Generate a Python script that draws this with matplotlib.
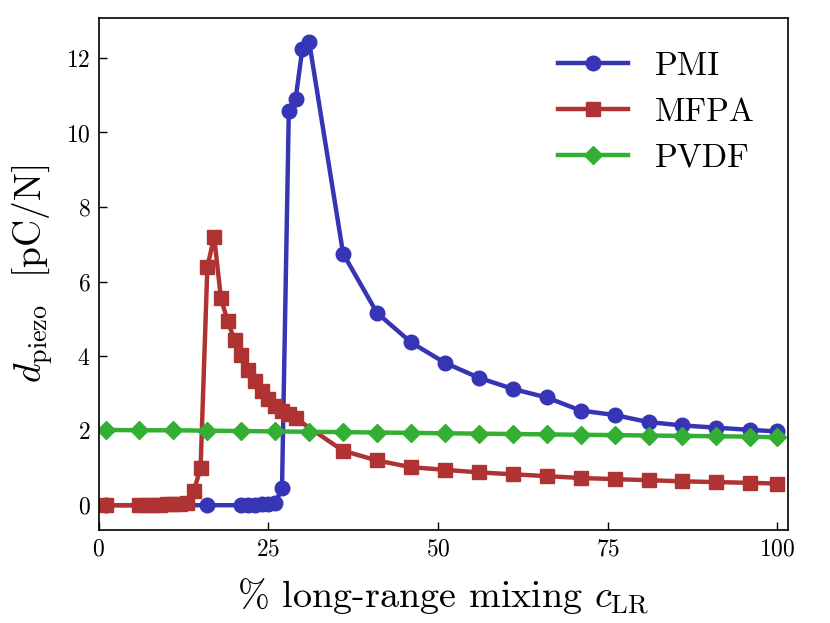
import numpy as np
import matplotlib.pyplot as plt

plt.rcParams["font.family"] = "serif"
plt.rcParams["font.serif"] = ["cmr10"]
plt.rcParams["mathtext.fontset"] = "cm"
plt.rcParams["axes.formatter.use_mathtext"] = True
plt.rcParams["axes.unicode_minus"] = False

# ── data ────────────────────────────────────────────────────────────
pmi_x = [1, 16, 21, 22, 23, 24, 25, 26, 27, 28, 29, 30, 31,
         36, 41, 46, 51, 56, 61, 66, 71, 76, 81, 86, 91, 96, 100]
pmi_y = [0.0, 0.0, 0.0, 0.0, 0.01, 0.02, 0.03, 0.05, 0.47, 10.57, 10.9, 12.25, 12.43,
         6.75, 5.16, 4.37, 3.82, 3.42, 3.12, 2.89, 2.54, 2.42, 2.23, 2.14, 2.08, 2.02, 1.98]

mfpa_x = [1, 6, 7, 8, 9, 10, 11, 12, 13, 14, 15, 16, 17, 18, 19, 20, 21, 22,
          23, 24, 25, 26, 27, 28, 29,
          36, 41, 46, 51, 56, 61, 66, 71, 76, 81, 86, 91, 96, 100]
mfpa_y = [0.0, 0.0, 0.0, 0.01, 0.01, 0.02, 0.03, 0.04, 0.07, 0.39, 0.99, 6.39, 7.2,
          5.55, 4.94, 4.43, 4.03, 3.63, 3.33, 3.06, 2.85, 2.66, 2.54, 2.45, 2.33,
          1.46, 1.2, 1.02, 0.95, 0.88, 0.83, 0.78, 0.73, 0.7, 0.67, 0.64, 0.62, 0.6, 0.58]

pvdf_x = [1, 6, 11, 16, 21, 26, 31, 36, 41, 46, 51, 56, 61, 66, 71, 76, 81, 86, 91, 96, 100]
pvdf_y = [2.02, 2.01, 2.01, 2.0, 1.99, 1.98, 1.97, 1.96, 1.95, 1.94, 1.93,
          1.92, 1.91, 1.9, 1.89, 1.88, 1.87, 1.86, 1.85, 1.84, 1.82]

c_pmi = "#3535b5"
c_mfpa = "#b03333"
c_pvdf = "#33b033"

fig = plt.figure(figsize=(8.3, 6.23), dpi=100)
ax = fig.add_axes([0.119, 0.149, 0.830, 0.822])

ax.plot(pmi_x, pmi_y, "-o", color=c_pmi, lw=3.2, ms=10.5, label="PMI")
ax.plot(mfpa_x, mfpa_y, "-s", color=c_mfpa, lw=3.2, ms=10.5, label="MFPA")
ax.plot(pvdf_x, pvdf_y, "-D", color=c_pvdf, lw=3.2, ms=9.5, label="PVDF")

ax.set_xlim(0, 101.5)
ax.set_ylim(-0.67, 13.07)
ax.set_xticks([0, 25, 50, 75, 100])
ax.set_yticks([0, 2, 4, 6, 8, 10, 12])
ax.tick_params(direction="in", labelsize=17, length=6, width=1, pad=6)
for s in ax.spines.values():
    s.set_linewidth(1.2)

ax.set_xlabel(r"% long-range mixing $c_{\rm LR}$", fontsize=27.5, labelpad=11)
ax.set_ylabel(r"$d_{\rm piezo}$  [pC/N]", fontsize=27, labelpad=8)

ax.legend(loc="upper right", frameon=False, fontsize=24, handlelength=2.1,
          handletextpad=0.8, borderaxespad=0.6)

fig.savefig("out.png", dpi=100)
